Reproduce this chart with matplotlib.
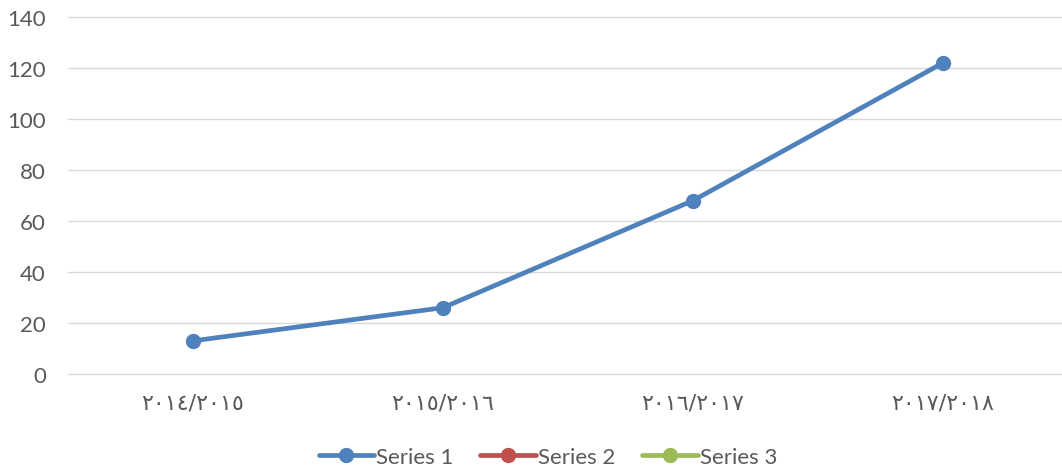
import matplotlib
matplotlib.use('Agg')
import matplotlib.pyplot as plt
import numpy as np

categories = ['٢٠١٤/٢٠١٥', '٢٠١٥/٢٠١٦', '٢٠١٦/٢٠١٧', '٢٠١٧/٢٠١٨']
series_names = ['Series 1', 'Series 2', 'Series 3']
series_1 = [13, 26, 68, 122]
colors = ['#4F81BD', '#C0504D', '#9BBB59']

plt.rcParams['font.family'] = ['Lato', 'DejaVu Sans']

fig = plt.figure(figsize=(10.62, 4.77), dpi=100)
ax = fig.add_axes([68 / 1062, 1 - 375 / 477, 1 - 68 / 1062, (375 - 18) / 477])

x = np.arange(len(categories))
ax.plot(x, series_1, color=colors[0], lw=3.4, marker='o', ms=10,
        label=series_names[0], solid_capstyle='round')
# empty series just for the legend
for name, c in zip(series_names[1:], colors[1:]):
    ax.plot([], [], color=c, lw=3.4, marker='o', ms=10, label=name,
            solid_capstyle='round')

ax.set_xlim(-0.5, 3.5 - 6 / 250)
ax.set_ylim(0, 140)
ax.set_yticks(np.arange(0, 141, 20))
ax.set_xticks(x)
ax.set_xticklabels(categories, family=['DejaVu Sans'], fontsize=13.5)
ax.grid(axis='y', color='#D9D9D9', lw=1, clip_on=False)
for gl in ax.get_ygridlines():
    gl.set_clip_on(False)
ax.set_axisbelow(True)
for s in ax.spines.values():
    s.set_visible(False)
ax.tick_params(length=0, colors='#595959', labelsize=16)
ax.tick_params(axis='x', pad=13)
ax.tick_params(axis='y', pad=16)

leg = fig.legend(loc='center', bbox_to_anchor=(548 / 1062, 1 - 458 / 477),
                 ncol=3, frameon=False, fontsize=16, handlelength=2.5,
                 handletextpad=0.1, columnspacing=1.2)
for t in leg.get_texts():
    t.set_color('#595959')

fig.savefig('out.png', dpi=100)
